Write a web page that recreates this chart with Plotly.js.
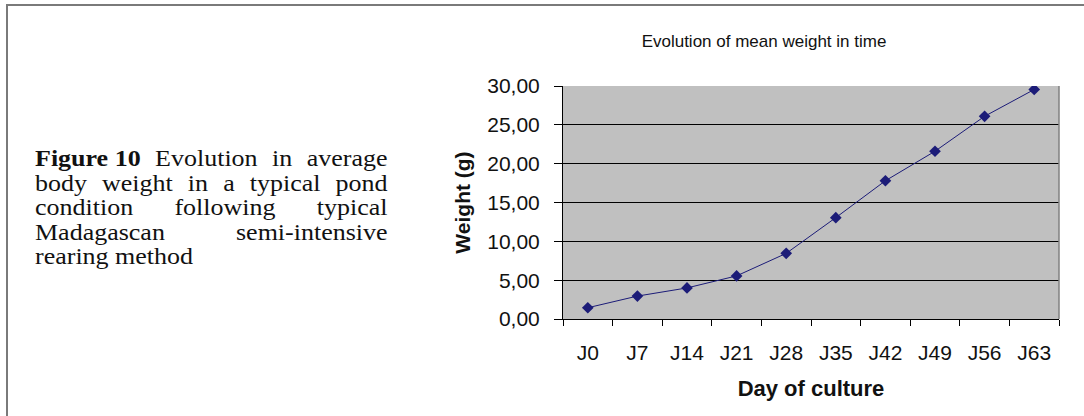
<!DOCTYPE html>
<html>
<head>
<meta charset="utf-8">
<script src="https://cdn.plot.ly/plotly-3.0.1.min.js"></script>
<style>
  html, body { margin: 0; padding: 0; background: #fff; }
  #wrap { position: relative; width: 1084px; height: 416px; overflow: hidden; }
  #chart { position: absolute; left: 0; top: 0; width: 1084px; height: 416px; }
  #frame { position: absolute; left: 6px; top: 4px; width: 1100px; height: 430px;
           border-left: 2px solid #7a7a7a; border-top: 2px solid #7a7a7a; pointer-events: none; z-index: 5; }
  #caption { position: absolute; left: 35px; top: 147px; width: 312px; z-index: 6;
             transform: scaleX(1.13); transform-origin: 0 0;
             font-family: "Liberation Serif", "Times New Roman", serif; font-size: 23px;
             line-height: 24.6px; color: #111; }
  #caption div.j { display: flex; justify-content: space-between; white-space: nowrap; }
  #caption div.last { white-space: nowrap; text-align: left; }
</style>
</head>
<body>
<div id="wrap">
  <div id="chart"></div>
  <div id="frame"></div>
  <div id="caption"></div>
</div>
<script>
// ---- data ----
const days = ["J0", "J7", "J14", "J21", "J28", "J35", "J42", "J49", "J56", "J63"];
const meanWeight = [1.45, 2.95, 4.0, 5.55, 8.45, 13.05, 17.8, 21.6, 26.1, 29.55];
const chartTitle = "Evolution of mean weight in time";
const xTitle = "Day of culture";
const yTitle = "Weight (g)";
const captionLines = [
  "<b>Figure 10</b> Evolution in average",
  "body weight in a typical pond",
  "condition following typical",
  "Madagascan semi-intensive",
  "rearing method"
];

// caption (justified lines, last line left aligned)
const cap = document.getElementById('caption');
captionLines.forEach((ln, i) => {
  const d = document.createElement('div');
  if (i === captionLines.length - 1) {
    d.className = 'last';
    d.innerHTML = ln;
  } else {
    d.className = 'j';
    const parts = ln.match(/<b>.*?<\/b>|\S+/g);
    parts.forEach(p => { const s = document.createElement('span'); s.innerHTML = p; d.appendChild(s); });
  }
  cap.appendChild(d);
});

const navy = '#1c1c78';
const trace = {
  type: 'scatter', mode: 'lines+markers',
  x: days, y: meanWeight,
  line: { color: navy, width: 1 },
  marker: { symbol: 'diamond', size: 9, color: navy },
  hoverinfo: 'x+y'
};

const layout = {
  width: 1084, height: 416,
  margin: { l: 563, r: 25, t: 86, b: 97, pad: 0 },
  paper_bgcolor: 'rgba(0,0,0,0)',
  plot_bgcolor: '#c0c0c0',
  showlegend: false,
  separators: ', ',
  font: { family: 'Liberation Sans, Arial, sans-serif', color: '#111' },
  title: {
    text: chartTitle,
    font: { size: 17, color: '#111' },
    xref: 'container', x: 764 / 1084, xanchor: 'center',
    yref: 'container', y: 1 - 41 / 416, yanchor: 'middle'
  },
  xaxis: {
    type: 'category', categoryorder: 'array', categoryarray: days,
    range: [-0.5, days.length - 0.5],
    showgrid: false, zeroline: false,
    showline: true, linecolor: '#000', linewidth: 1,
    ticks: 'outside', tickson: 'boundaries', ticklen: 6, tickcolor: '#000', tickwidth: 1,
    tickfont: { size: 21, color: '#111' },
    ticklabelstandoff: 15,
    title: { text: xTitle, font: { size: 22, weight: 'bold', color: '#111' }, standoff: 17 }
  },
  yaxis: {
    range: [0, 30], dtick: 5, tick0: 0, tickformat: '.2f',
    showgrid: true, gridcolor: '#000', gridwidth: 1, zeroline: false,
    showline: true, linecolor: '#000', linewidth: 1,
    ticks: 'outside', ticklen: 8, tickcolor: '#000', tickwidth: 1,
    tickfont: { size: 21, color: '#111' },
    ticklabelstandoff: 10,
    title: { text: yTitle, font: { size: 21, weight: 'bold', color: '#111' }, standoff: 10 }
  },
  shapes: [
    { type: 'line', xref: 'paper', yref: 'paper', x0: 1, x1: 1, y0: 0, y1: 1,
      line: { color: '#808080', width: 1.5 } }
  ]
};

Plotly.newPlot('chart', [trace], layout, { displayModeBar: false, staticPlot: true });
</script>
</body>
</html>
